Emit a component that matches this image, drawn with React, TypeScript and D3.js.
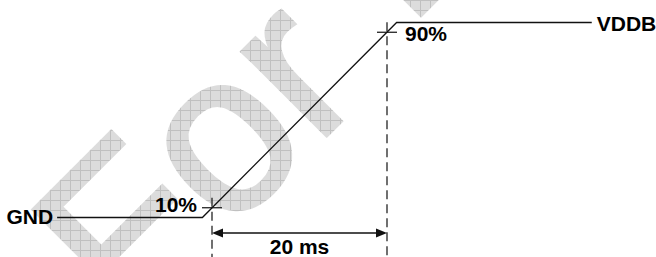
import { useEffect } from "react";
import * as d3 from "d3";

// supply ramp, time in ms, level as fraction of VDDB
const rampTimes = [-17.7, -1.1, 21.1, 43.4];
const rampLevels = [0, 0, 1, 1];

const markerTimes = [0, 20];
const markerLevels = [0.05, 0.95];
const markerLabels = ["10%", "90%"];

const railNames = ["GND", "VDDB"];
const spanLabel = "20 ms";
const watermarkWords = ["For", "R"];

const W = 656;
const H = 257;
const font = "'Liberation Sans', Arial, sans-serif";
const ink = "#111";

export default function App() {
  useEffect(() => {
    document.body.style.margin = "0";
  }, []);

  const x = d3.scaleLinear().domain([0, 20]).range([212, 387]);
  const y = d3.scaleLinear().domain([0, 1]).range([217.5, 22.5]);

  const pts: [number, number][] = rampTimes.map((t, i) => [t, rampLevels[i]]);
  const line = d3
    .line<[number, number]>()
    .x((d) => x(d[0]))
    .y((d) => y(d[1]));

  const start = pts[0];
  const end = pts[pts.length - 1];
  const arrowY = 233;
  const x0 = x(markerTimes[0]);
  const x1 = x(markerTimes[1]);

  const wmProps = {
    fontSize: 225,
    fontFamily: font,
    fill: "#fff",
    stroke: "#fff",
    strokeWidth: 4,
    strokeLinejoin: "miter" as const,
  };

  return (
    <svg width={W} height={H} style={{ display: "block" }} fontFamily={font}>
      <defs>
        <pattern id="grid" width={10} height={10} patternUnits="userSpaceOnUse">
          <rect width={10} height={10} fill="#dcdcdc" />
          <path d="M0,0.5H10M0.5,0V10" stroke="#c0c0c0" strokeWidth={1} />
        </pattern>
        <mask id="wm" maskUnits="userSpaceOnUse" x={0} y={0} width={W} height={H}>
          <text transform="translate(130,332) rotate(-45)" {...wmProps}>
            {watermarkWords[0]}
          </text>
          <text transform="translate(408,28) rotate(-45)" {...wmProps}>
            {watermarkWords[1]}
          </text>
        </mask>
      </defs>
      <rect width={W} height={H} fill="#fff" />
      <rect width={W} height={H} fill="url(#grid)" mask="url(#wm)" />

      {/* dashed time markers */}
      {markerTimes.map((t, i) => (
        <line
          key={"d" + i}
          x1={x(t)}
          x2={x(t)}
          y1={y(markerLevels[i]) - 10}
          y2={H}
          stroke={ink}
          strokeWidth={1.2}
          strokeDasharray="9,5"
        />
      ))}

      {/* waveform */}
      <path d={line(pts) ?? ""} fill="none" stroke={ink} strokeWidth={1.3} />

      {/* level crosses */}
      {markerTimes.map((t, i) => (
        <line
          key={"c" + i}
          x1={x(t) - 10}
          x2={x(t) + 10}
          y1={y(markerLevels[i])}
          y2={y(markerLevels[i])}
          stroke={ink}
          strokeWidth={1.2}
        />
      ))}

      {/* rail labels */}
      <text x={x(start[0]) - 4} y={y(start[1]) + 6} textAnchor="end" fontSize={21} fontWeight="bold">
        {railNames[0]}
      </text>
      <text x={x(end[0]) + 5} y={y(end[1]) + 8.5} fontSize={21} fontWeight="bold">
        {railNames[1]}
      </text>

      {/* percent labels */}
      <text x={x0 - 15} y={y(markerLevels[0]) + 4} textAnchor="end" fontSize={21} fontWeight="bold">
        {markerLabels[0]}
      </text>
      <text x={x1 + 18} y={y(markerLevels[1]) + 8.5} fontSize={21} fontWeight="bold">
        {markerLabels[1]}
      </text>

      {/* span arrow */}
      <line x1={x0 + 4} x2={x1 - 4} y1={arrowY} y2={arrowY} stroke={ink} strokeWidth={1.5} />
      <path d={`M${x0},${arrowY}l11,-4.5v9z`} fill={ink} />
      <path d={`M${x1},${arrowY}l-11,-4.5v9z`} fill={ink} />
      <text x={(x0 + x1) / 2} y={254} textAnchor="middle" fontSize={21} fontWeight="bold">
        {spanLabel}
      </text>
    </svg>
  );
}
